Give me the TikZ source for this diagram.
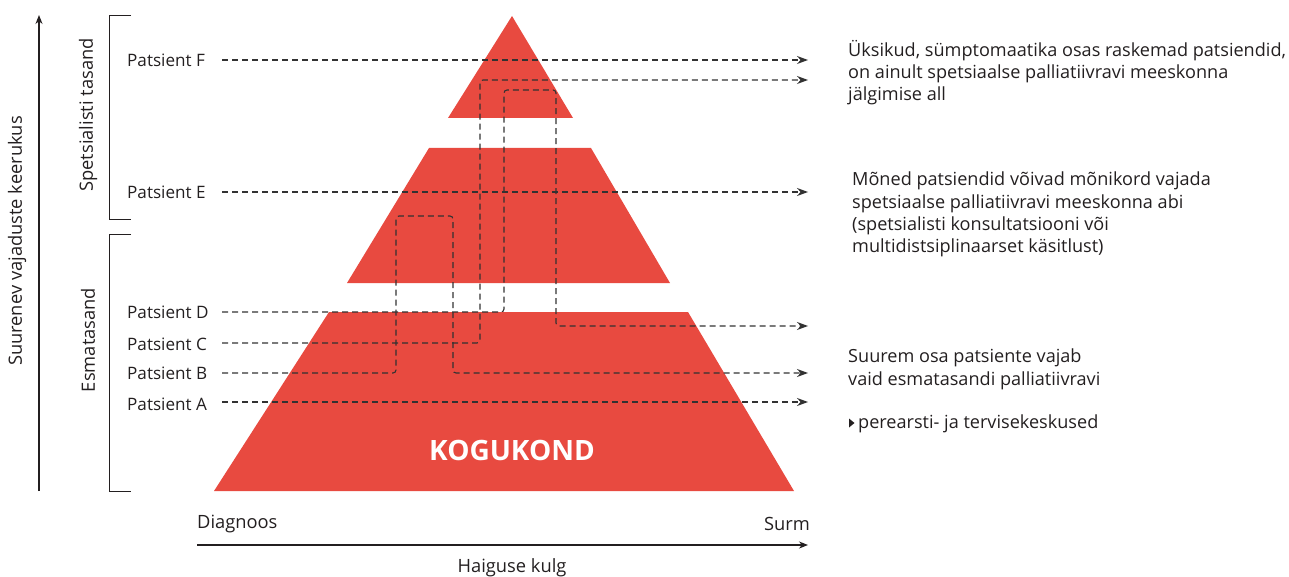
\documentclass[tikz,border=0pt]{standalone}
\usepackage{fontspec}
\setmainfont{Open Sans}
\usetikzlibrary{arrows.meta}
\definecolor{pyr}{RGB}{232,74,64}
\definecolor{dline}{RGB}{50,50,50}
\definecolor{txt}{RGB}{35,31,32}
\begin{document}
\begin{tikzpicture}[x=1pt,y=-1pt,
  lbl/.style={font=\fontsize{17.1}{22}\selectfont, text=txt, inner sep=0pt},
  rlbl/.style={font=\fontsize{18.1}{22.3}\selectfont, text=txt, inner sep=0pt},
  para/.style={rlbl, align=left, anchor=north west},
  vlbl/.style={font=\fontsize{18.3}{22}\selectfont, text=txt, inner sep=0pt, rotate=90},
  blbl/.style={font=\fontsize{18.3}{22}\selectfont, text=txt, inner sep=0pt},
  patline/.style={dline, line width=1.1pt, dash pattern=on 6pt off 4pt, rounded corners=3pt, -{Stealth[length=11pt,width=8pt]}},
  axisline/.style={txt, line width=1.1pt, -{Stealth[length=9pt,width=7pt]}},
  bracket/.style={txt, line width=1pt}
]
\useasboundingbox (0,0) rectangle (1289,577);
% pyramid
\fill[pyr] (512,16) -- (573,118) -- (448,118) -- cycle;
\fill[pyr] (429,148) -- (591,148) -- (670,283) -- (347,283) -- cycle;
\fill[pyr] (329,312) -- (688,312) -- (794,491) -- (214,491) -- cycle;
\node[font=\bfseries\fontsize{28}{30}\selectfont, text=white, inner sep=0pt] (kog) at (512,450) {KOGUKOND};

% left axis and brackets
\coordinate (vA) at (39,491);
\coordinate (vB) at (39,15);
\draw[axisline] (vA) -- (vB);
\node[vlbl] (vlab) at (17,241) {Suurenev vajaduste keerukus};
\draw[bracket] (131,16) -- (109,16) -- (109,220) -- (131,220);
\draw[bracket] (131,235) -- (109,235) -- (109,491) -- (131,491);
\node[vlbl] (spet) at (88,115) {Spetsialisti tasand};
\node[vlbl] (esma) at (88,340) {Esmatasand};

% patient labels
\node[lbl, anchor=west] (pF) at (127,60) {Patsient F};
\node[lbl, anchor=west] (pE) at (127,192) {Patsient E};
\node[lbl, anchor=west] (pD) at (127,312) {Patsient D};
\node[lbl, anchor=west] (pC) at (127,344) {Patsient C};
\node[lbl, anchor=west] (pB) at (127,373) {Patsient B};
\node[lbl, anchor=west] (pA) at (127,404) {Patsient A};

% start / end coordinates
\coordinate (sF) at (222,60);
\coordinate (sE) at (222,192);
\coordinate (sD) at (222,312);
\coordinate (sC) at (222,343);
\coordinate (sB) at (222,373);
\coordinate (sA) at (222,402);
\coordinate (t1) at (808,60);
\coordinate (t2) at (808,80);
\coordinate (t3) at (808,192);
\coordinate (t4) at (808,326);
\coordinate (t5) at (808,373);
\coordinate (t6) at (808,402);

\draw[patline] (sF) -- (t1);
\draw[patline] (sE) -- (t3);
\draw[patline] (sA) -- (t6);
\draw[patline] (sC) -| (480,80) -- (t2);
\draw[patline] (sD) -| (504,90) -| (556,326) -- (t4);
\draw[patline] (sB) -| (396,216) -| (453,373) -- (t5);

% bottom axis
\coordinate (hA) at (197,545);
\coordinate (hB) at (808,545);
\draw[axisline] (hA) -- (hB);
\node[blbl, anchor=west] (diag) at (197,524) {Diagnoos};
\node[blbl, anchor=east] (surm) at (810,524) {Surm};
\node[blbl] (kulg) at (512,568) {Haiguse kulg};

% right texts
\node[para] (r1) at (848,40) {Üksikud, sümptomaatika osas raskemad patsiendid,\\on ainult spetsiaalse palliatiivravi meeskonna\\jälgimise all};
\node[para] (r2) at (852,172) {Mõned patsiendid võivad mõnikord vajada\\spetsiaalse palliatiivravi meeskonna abi\\(spetsialisti konsultatsiooni või\\multidistsiplinaarset käsitlust)};
\node[para] (r3) at (848,349) {Suurem osa patsiente vajab\\vaid esmatasandi palliatiivravi};
\fill[txt] (849,418.5) -- (854.5,423) -- (849,427.5) -- cycle;
\node[rlbl, anchor=west] (r4) at (858,424) {perearsti- ja tervisekeskused};
\end{tikzpicture}
\end{document}
